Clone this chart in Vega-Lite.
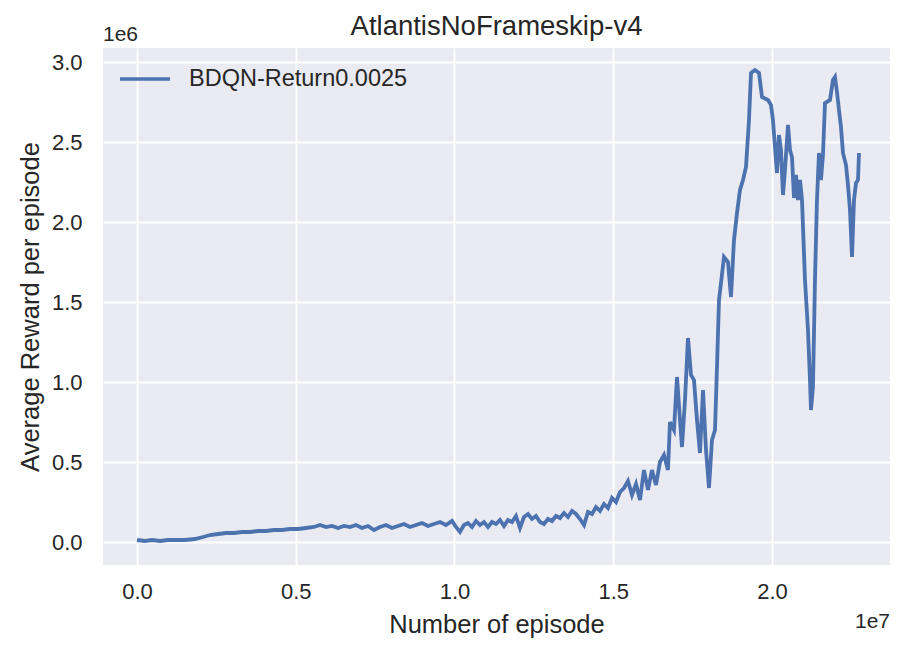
{
  "$schema": "https://vega.github.io/schema/vega-lite/v6.json",
  "autosize": {"type": "none"},
  "padding": {"left": 103, "top": 48, "right": 23, "bottom": 92},
  "width": 787,
  "height": 517,
  "background": "white",
  "title": {"text": "AtlantisNoFrameskip-v4", "fontSize": 27.5, "font": "Liberation Sans", "fontWeight": "normal", "color": "#262626", "offset": -16, "anchor": "middle"},
  "config": {
    "view": {"fill": "#eaeaf2", "stroke": null},
    "font": "Liberation Sans",
    "axis": {
      "domain": false, "ticks": false, "gridColor": "white", "gridWidth": 1.8, "gridOpacity": 1,
      "labelFont": "Liberation Sans", "labelFontSize": 22, "labelColor": "#262626",
      "titleFont": "Liberation Sans", "titleFontSize": 25.5, "titleFontWeight": "normal", "titleColor": "#262626"
    }
  },
  "layer": [
    {
      "data": {"values": [
        {"episode": 0, "reward": 12500},
        {"episode": 252000, "reward": 6250},
        {"episode": 472000, "reward": 12500},
        {"episode": 724000, "reward": 6250},
        {"episode": 976000, "reward": 12500},
        {"episode": 1228000, "reward": 12500},
        {"episode": 1512000, "reward": 12500},
        {"episode": 1827000, "reward": 18750},
        {"episode": 2079000, "reward": 31250},
        {"episode": 2299000, "reward": 43750},
        {"episode": 2551000, "reward": 50000},
        {"episode": 2803000, "reward": 56250},
        {"episode": 3055000, "reward": 56250},
        {"episode": 3307000, "reward": 62500},
        {"episode": 3559000, "reward": 62500},
        {"episode": 3811000, "reward": 68750},
        {"episode": 4063000, "reward": 68750},
        {"episode": 4315000, "reward": 75000},
        {"episode": 4567000, "reward": 75000},
        {"episode": 4819000, "reward": 81250},
        {"episode": 5071000, "reward": 81250},
        {"episode": 5323000, "reward": 87500},
        {"episode": 5575000, "reward": 93750},
        {"episode": 5764000, "reward": 106250},
        {"episode": 5953000, "reward": 93750},
        {"episode": 6142000, "reward": 100000},
        {"episode": 6331000, "reward": 87500},
        {"episode": 6520000, "reward": 100000},
        {"episode": 6709000, "reward": 93750},
        {"episode": 6898000, "reward": 106250},
        {"episode": 7087000, "reward": 87500},
        {"episode": 7276000, "reward": 100000},
        {"episode": 7465000, "reward": 75000},
        {"episode": 7654000, "reward": 93750},
        {"episode": 7843000, "reward": 106250},
        {"episode": 8031000, "reward": 87500},
        {"episode": 8220000, "reward": 100000},
        {"episode": 8409000, "reward": 112500},
        {"episode": 8598000, "reward": 93750},
        {"episode": 8787000, "reward": 106250},
        {"episode": 8976000, "reward": 118750},
        {"episode": 9165000, "reward": 100000},
        {"episode": 9354000, "reward": 112500},
        {"episode": 9543000, "reward": 125000},
        {"episode": 9732000, "reward": 106250},
        {"episode": 9921000, "reward": 131250},
        {"episode": 10047000, "reward": 93750},
        {"episode": 10173000, "reward": 62500},
        {"episode": 10299000, "reward": 106250},
        {"episode": 10425000, "reward": 118750},
        {"episode": 10551000, "reward": 93750},
        {"episode": 10677000, "reward": 131250},
        {"episode": 10803000, "reward": 106250},
        {"episode": 10929000, "reward": 125000},
        {"episode": 11055000, "reward": 93750},
        {"episode": 11181000, "reward": 125000},
        {"episode": 11307000, "reward": 112500},
        {"episode": 11433000, "reward": 137500},
        {"episode": 11559000, "reward": 100000},
        {"episode": 11685000, "reward": 137500},
        {"episode": 11811000, "reward": 125000},
        {"episode": 11937000, "reward": 162500},
        {"episode": 12063000, "reward": 87500},
        {"episode": 12189000, "reward": 156250},
        {"episode": 12315000, "reward": 175000},
        {"episode": 12441000, "reward": 143750},
        {"episode": 12567000, "reward": 162500},
        {"episode": 12693000, "reward": 125000},
        {"episode": 12819000, "reward": 112500},
        {"episode": 12945000, "reward": 143750},
        {"episode": 13071000, "reward": 131250},
        {"episode": 13197000, "reward": 162500},
        {"episode": 13323000, "reward": 150000},
        {"episode": 13449000, "reward": 181250},
        {"episode": 13575000, "reward": 156250},
        {"episode": 13701000, "reward": 193750},
        {"episode": 13827000, "reward": 175000},
        {"episode": 13953000, "reward": 143750},
        {"episode": 14079000, "reward": 106250},
        {"episode": 14205000, "reward": 187500},
        {"episode": 14331000, "reward": 175000},
        {"episode": 14457000, "reward": 218750},
        {"episode": 14583000, "reward": 193750},
        {"episode": 14709000, "reward": 237500},
        {"episode": 14835000, "reward": 212500},
        {"episode": 14961000, "reward": 275000},
        {"episode": 15087000, "reward": 250000},
        {"episode": 15213000, "reward": 312500},
        {"episode": 15339000, "reward": 337500},
        {"episode": 15465000, "reward": 381250},
        {"episode": 15591000, "reward": 293750},
        {"episode": 15717000, "reward": 362500},
        {"episode": 15842000, "reward": 262500},
        {"episode": 15968000, "reward": 450000},
        {"episode": 16094000, "reward": 325000},
        {"episode": 16220000, "reward": 450000},
        {"episode": 16346000, "reward": 356250},
        {"episode": 16472000, "reward": 500000},
        {"episode": 16598000, "reward": 543750},
        {"episode": 16724000, "reward": 450000},
        {"episode": 16787000, "reward": 750000},
        {"episode": 16913000, "reward": 700000},
        {"episode": 17008000, "reward": 1031250},
        {"episode": 17102000, "reward": 762500},
        {"episode": 17165000, "reward": 593750},
        {"episode": 17260000, "reward": 887500},
        {"episode": 17354000, "reward": 1275000},
        {"episode": 17449000, "reward": 1043750},
        {"episode": 17543000, "reward": 1012500},
        {"episode": 17638000, "reward": 762500},
        {"episode": 17732000, "reward": 556250},
        {"episode": 17827000, "reward": 950000},
        {"episode": 17921000, "reward": 575000},
        {"episode": 18016000, "reward": 337500},
        {"episode": 18110000, "reward": 637500},
        {"episode": 18205000, "reward": 700000},
        {"episode": 18268000, "reward": 1093750},
        {"episode": 18331000, "reward": 1512500},
        {"episode": 18394000, "reward": 1618750},
        {"episode": 18488000, "reward": 1781250},
        {"episode": 18614000, "reward": 1750000},
        {"episode": 18709000, "reward": 1531250},
        {"episode": 18803000, "reward": 1887500},
        {"episode": 18898000, "reward": 2056250},
        {"episode": 18992000, "reward": 2200000},
        {"episode": 19087000, "reward": 2262500},
        {"episode": 19181000, "reward": 2343750},
        {"episode": 19276000, "reward": 2637500},
        {"episode": 19339000, "reward": 2931250},
        {"episode": 19465000, "reward": 2950000},
        {"episode": 19591000, "reward": 2931250},
        {"episode": 19685000, "reward": 2781250},
        {"episode": 19874000, "reward": 2762500},
        {"episode": 19968000, "reward": 2731250},
        {"episode": 20031000, "reward": 2637500},
        {"episode": 20094000, "reward": 2468750},
        {"episode": 20157000, "reward": 2306250},
        {"episode": 20220000, "reward": 2543750},
        {"episode": 20283000, "reward": 2450000},
        {"episode": 20346000, "reward": 2168750},
        {"episode": 20409000, "reward": 2325000},
        {"episode": 20504000, "reward": 2606250},
        {"episode": 20567000, "reward": 2450000},
        {"episode": 20630000, "reward": 2406250},
        {"episode": 20693000, "reward": 2150000},
        {"episode": 20756000, "reward": 2293750},
        {"episode": 20819000, "reward": 2137500},
        {"episode": 20882000, "reward": 2262500},
        {"episode": 20945000, "reward": 2137500},
        {"episode": 21039000, "reward": 1637500},
        {"episode": 21134000, "reward": 1325000},
        {"episode": 21197000, "reward": 1012500},
        {"episode": 21228000, "reward": 825000},
        {"episode": 21291000, "reward": 968750},
        {"episode": 21354000, "reward": 1637500},
        {"episode": 21417000, "reward": 2137500},
        {"episode": 21480000, "reward": 2431250},
        {"episode": 21543000, "reward": 2262500},
        {"episode": 21606000, "reward": 2418750},
        {"episode": 21669000, "reward": 2743750},
        {"episode": 21827000, "reward": 2762500},
        {"episode": 21921000, "reward": 2887500},
        {"episode": 21984000, "reward": 2906250},
        {"episode": 22047000, "reward": 2812500},
        {"episode": 22110000, "reward": 2700000},
        {"episode": 22173000, "reward": 2593750},
        {"episode": 22236000, "reward": 2431250},
        {"episode": 22331000, "reward": 2356250},
        {"episode": 22394000, "reward": 2231250},
        {"episode": 22457000, "reward": 2075000},
        {"episode": 22520000, "reward": 1781250},
        {"episode": 22583000, "reward": 2137500},
        {"episode": 22646000, "reward": 2243750},
        {"episode": 22709000, "reward": 2262500},
        {"episode": 22740000, "reward": 2431250}
      ]},
      "mark": {"type": "line", "strokeWidth": 3.8, "clip": true},
      "encoding": {
        "x": {"field": "episode", "type": "quantitative",
              "scale": {"domain": [-1071000, 23717000], "nice": false, "zero": false},
              "axis": {"values": [0, 5000000, 10000000, 15000000, 20000000], "labelExpr": "format(datum.value/1e7, '.1f')", "labelPadding": 16, "title": "Number of episode", "titlePadding": 10}},
        "y": {"field": "reward", "type": "quantitative",
              "scale": {"domain": [-143750, 3087500], "nice": false, "zero": false},
              "axis": {"values": [0, 500000, 1000000, 1500000, 2000000, 2500000, 3000000], "labelExpr": "format(datum.value/1e6, '.1f')", "labelPadding": 21, "title": "Average Reward per episode", "titlePadding": 8}},
        "color": {"datum": "BDQN-Return0.0025", "type": "nominal",
                  "scale": {"range": ["#4c72b0"]},
                  "legend": {"title": null, "orient": "none", "legendX": 15, "legendY": 4, "symbolType": "stroke", "symbolSize": 2500, "symbolStrokeWidth": 3.5, "labelFontSize": 23.5, "labelFont": "Liberation Sans", "labelColor": "#262626", "labelOffset": 17, "labelLimit": 0, "symbolOpacity": 1}}
      }
    },
    {
      "data": {"values": [{"label": "1e6"}]},
      "mark": {"type": "text", "align": "left", "baseline": "bottom", "dy": -3, "fontSize": 21, "font": "Liberation Sans", "color": "#262626"},
      "encoding": {"x": {"datum": -1071000, "type": "quantitative"}, "y": {"datum": 3087500, "type": "quantitative"}, "text": {"field": "label"}}
    },
    {
      "data": {"values": [{"label": "1e7"}]},
      "mark": {"type": "text", "align": "right", "baseline": "top", "dy": 46, "fontSize": 21, "font": "Liberation Sans", "color": "#262626"},
      "encoding": {"x": {"datum": 23717000, "type": "quantitative"}, "y": {"datum": -143750, "type": "quantitative"}, "text": {"field": "label"}}
    }
  ]
}
